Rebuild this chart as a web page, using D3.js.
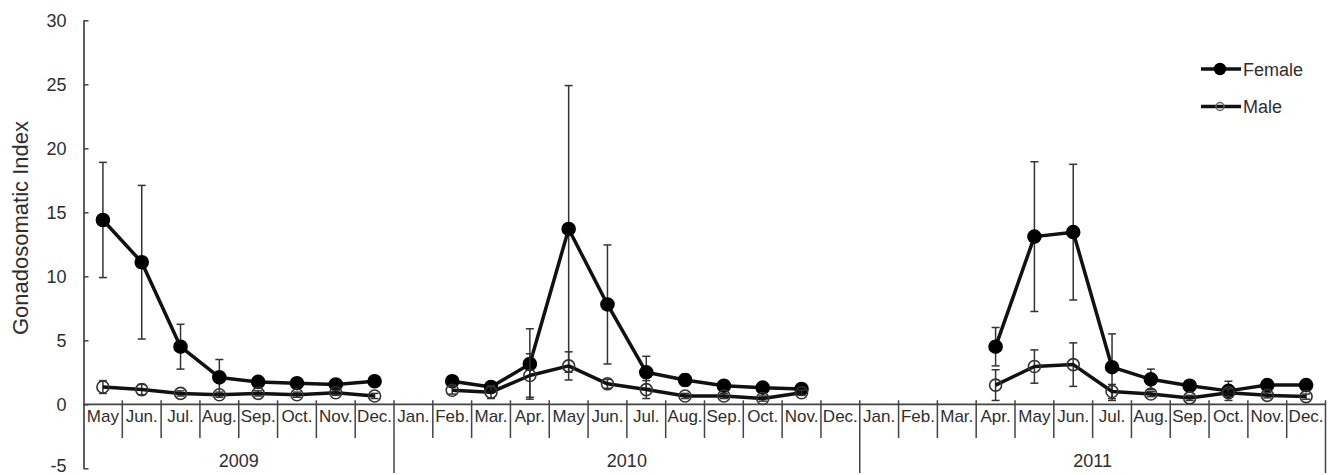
<!DOCTYPE html>
<html>
<head>
<meta charset="utf-8">
<script src="https://cdn.jsdelivr.net/npm/d3@7"></script>
<style>
  body { margin: 0; background: #fff; }
  svg { display: block; font-family: "Liberation Sans", Arial, sans-serif; }
</style>
</head>
<body>
<div id="chart"></div>
<script>
// data
const years = ["2009", "2010", "2011"];
const monthNames = ["Jan.", "Feb.", "Mar.", "Apr.", "May", "Jun.", "Jul.", "Aug.", "Sep.", "Oct.", "Nov.", "Dec."];
const firstMonth = [4, 0, 0];   // 2009 starts in May

const female = [14.4, 11.1, 4.5, 2.1, 1.75, 1.65, 1.55, 1.8,
  null, 1.8, 1.35, 3.15, 13.7, 7.8, 2.5, 1.9, 1.45, 1.3, 1.2, null,
  null, null, null, 4.5, 13.1, 13.45, 2.9, 1.95, 1.45, 1.05, 1.5, 1.5];
const femaleErr = [4.5, 6.0, 1.75, 1.4, 0.3, 0.3, 0.3, 0.3,
  null, 0.3, 0.4, 2.75, 11.2, 4.65, 1.25, 0.45, 0.3, 0.3, 0.25, null,
  null, null, null, 1.5, 5.85, 5.3, 2.6, 0.8, 0.35, 0.75, 0.3, 0.3];
const male = [1.35, 1.15, 0.85, 0.75, 0.85, 0.75, 0.9, 0.65,
  null, 1.1, 0.95, 2.25, 3.0, 1.6, 1.15, 0.65, 0.65, 0.45, 0.9, null,
  null, null, null, 1.5, 2.95, 3.1, 1.0, 0.8, 0.5, 0.9, 0.7, 0.6];
const maleErr = [0.5, 0.4, 0.2, 0.2, 0.2, 0.2, 0.2, 0.2,
  null, 0.3, 0.5, 1.7, 1.1, 0.35, 0.7, 0.2, 0.2, 0.2, 0.2, null,
  null, null, null, 1.2, 1.3, 1.7, 0.55, 0.2, 0.2, 0.3, 0.2, 0.2];

const yTicks = [-5, 0, 5, 10, 15, 20, 25, 30];

// categories: one per month, keyed by year
const categories = years.flatMap((yr, k) =>
  monthNames.slice(firstMonth[k]).map(m => ({ key: yr + " " + m, year: yr, month: m })));

const W = 1333, H = 475;
const svg = d3.select("#chart").append("svg")
  .attr("width", W)
  .attr("height", H);

const x = d3.scaleBand()
  .domain(categories.map(d => d.key))
  .range([83.5, 1325.5])
  .padding(0);

const y = d3.scaleLinear()
  .domain([-5, 30])
  .range([468.3, 20.3]);

const axisColor = "#444";
const textColor = "#2e2e2e";

// y axis, ticks point inward
const yAxis = svg.append("g")
  .attr("transform", "translate(" + x.range()[0] + ",0)")
  .call(d3.axisLeft(y).tickValues(yTicks).tickFormat(d => String(d))
    .tickSizeInner(-5).tickSizeOuter(0).tickPadding(17));
yAxis.select(".domain").attr("stroke", axisColor).attr("stroke-width", 1.7);
yAxis.selectAll(".tick line").attr("stroke", axisColor).attr("stroke-width", 1.5);
yAxis.selectAll(".tick text").attr("fill", textColor).attr("font-size", 18)
  .attr("font-family", "Liberation Sans, Arial, sans-serif")
  .attr("dy", d => d === -5 ? "0.2em" : "0.32em");

// y title
svg.append("text")
  .attr("transform", "translate(28,228) rotate(-90)")
  .attr("text-anchor", "middle")
  .attr("fill", textColor)
  .attr("font-size", 22)
  .text("Gonadosomatic Index");

// category axis at zero
const y0 = y(0);
svg.append("line")
  .attr("x1", x.range()[0]).attr("x2", x.range()[1])
  .attr("y1", y0).attr("y2", y0)
  .attr("stroke", axisColor).attr("stroke-width", 1.7);

categories.forEach((c, i) => {
  if (i === 0) return;
  const yearStart = categories[i - 1].year !== c.year;
  svg.append("line")
    .attr("x1", x(c.key)).attr("x2", x(c.key))
    .attr("y1", y0 - 4).attr("y2", yearStart ? H - 2 : 438)
    .attr("stroke", axisColor).attr("stroke-width", 1.5);
});
// closing separator at the right end
svg.append("line")
  .attr("x1", x.range()[1]).attr("x2", x.range()[1])
  .attr("y1", y0 - 4).attr("y2", H - 2)
  .attr("stroke", axisColor).attr("stroke-width", 1.5);

svg.append("g").selectAll("text")
  .data(categories)
  .enter().append("text")
  .attr("x", d => x(d.key) + x.bandwidth() / 2)
  .attr("y", 422)
  .attr("text-anchor", "middle")
  .attr("fill", textColor)
  .attr("font-size", 17)
  .text(d => d.month);

svg.append("g").selectAll("text")
  .data(years)
  .enter().append("text")
  .attr("x", yr => {
    const keys = categories.filter(c => c.year === yr).map(c => c.key);
    return (x(keys[0]) + x(keys[keys.length - 1]) + x.bandwidth()) / 2;
  })
  .attr("y", 467)
  .attr("text-anchor", "middle")
  .attr("fill", textColor)
  .attr("font-size", 18)
  .text(yr => yr);

// series
const series = [
  { name: "Female", values: female, err: femaleErr, filled: true },
  { name: "Male", values: male, err: maleErr, filled: false }
];

const cx = i => x(categories[i].key) + x.bandwidth() / 2;

series.forEach(s => {
  const pts = s.values.map((v, i) => ({ i: i, v: v, e: s.err[i] }));
  const g = svg.append("g");

  // error bars
  const eb = g.selectAll(".eb")
    .data(pts.filter(p => p.v !== null))
    .enter().append("g");
  eb.append("line")
    .attr("x1", p => cx(p.i)).attr("x2", p => cx(p.i))
    .attr("y1", p => y(p.v + p.e)).attr("y2", p => y(p.v - p.e))
    .attr("stroke", "#333").attr("stroke-width", 1.5);
  [1, -1].forEach(sgn => {
    eb.append("line")
      .attr("x1", p => cx(p.i) - 4).attr("x2", p => cx(p.i) + 4)
      .attr("y1", p => y(p.v + sgn * p.e)).attr("y2", p => y(p.v + sgn * p.e))
      .attr("stroke", "#333").attr("stroke-width", 1.5);
  });

  g.append("path")
    .datum(pts)
    .attr("fill", "none")
    .attr("stroke", "#111")
    .attr("stroke-width", 3.5)
    .attr("stroke-linejoin", "round")
    .attr("d", d3.line()
      .defined(p => p.v !== null)
      .x(p => cx(p.i))
      .y(p => y(p.v)));

  g.selectAll("circle")
    .data(pts.filter(p => p.v !== null))
    .enter().append("circle")
    .attr("cx", p => cx(p.i))
    .attr("cy", p => y(p.v))
    .attr("r", s.filled ? 6.5 : 6)
    .attr("fill", s.filled ? "#000" : "none")
    .attr("stroke", s.filled ? "#000" : "#333")
    .attr("stroke-width", 1.6);
});

// legend
const legend = svg.append("g").attr("transform", "translate(1201,69)");
series.forEach((s, k) => {
  const row = legend.append("g").attr("transform", "translate(0," + (k * 37.5) + ")");
  row.append("line")
    .attr("x1", 0).attr("x2", 40)
    .attr("stroke", "#111").attr("stroke-width", 3.5);
  row.append("circle")
    .attr("cx", 19).attr("r", s.filled ? 5.5 : 4)
    .attr("fill", s.filled ? "#000" : "none")
    .attr("stroke", s.filled ? "#000" : "#666")
    .attr("stroke-width", 1.4);
  row.append("text")
    .attr("x", 42).attr("y", 6.5)
    .attr("fill", textColor)
    .attr("font-size", 18)
    .text(s.name);
});
</script>
</body>
</html>
